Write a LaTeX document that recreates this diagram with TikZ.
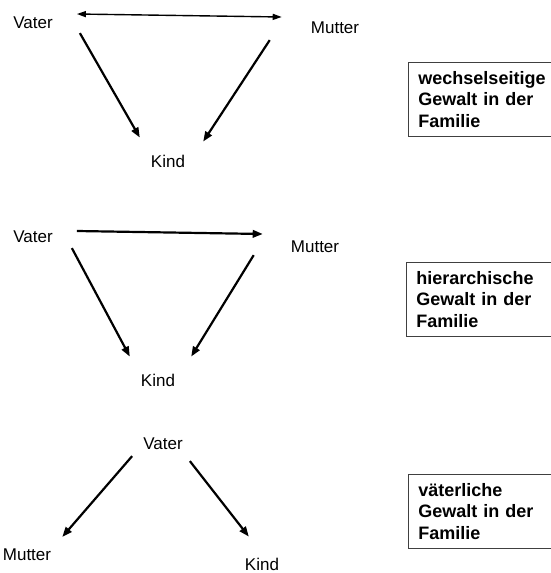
\documentclass[tikz,border=0pt]{standalone}
\usepackage{fontspec}
\setmainfont{Liberation Sans}
\usetikzlibrary{arrows.meta}

\begin{document}
\begin{tikzpicture}[
  x=1pt, y=-1pt,
  every node/.style={
    inner sep=0pt,
    font=\fontsize{17}{20}\selectfont
  },
  arr/.style={-{Triangle[length=10pt,width=7.5pt]}, line width=2.2pt},
  dbl/.style={{Triangle[length=9pt,width=6pt]}-{Triangle[length=9pt,width=6pt]}, line width=1.4pt},
  typbox/.style={
    draw=black!75, line width=0.9pt, anchor=north west,
    text width=150pt, align=left, inner xsep=10pt, inner ysep=9pt,
    font=\fontsize{18}{21.5}\selectfont\bfseries
  }
]
  \useasboundingbox (0,0) rectangle (551,573);

  % wechselseitige Gewalt
  \node (v1) at (33,23) {Vater};
  \node (m1) at (335,28) {Mutter};
  \node (k1) at (168,161) {Kind};
  \node[typbox] (t1) at (408,62) {wechselseitige\\Gewalt in der\\Familie};

  \draw[dbl] ([xshift=24pt,yshift=9pt]v1.east) -- ([xshift=-29pt,yshift=11pt]m1.west);
  \draw[arr] ([xshift=27pt,yshift=-4pt]v1.south east) -- ([xshift=-11pt,yshift=17pt]k1.north west);
  \draw[arr] ([xshift=-41pt,yshift=-6pt]m1.south west) -- ([xshift=18pt,yshift=13pt]k1.north east);

  % hierarchische Gewalt
  \node (v2) at (33,237) {Vater};
  \node (m2) at (315,247) {Mutter};
  \node (k2) at (158,380) {Kind};
  \node[typbox] (t2) at (406,262) {hierarchische\\Gewalt in der\\Familie};

  \draw[arr] ([xshift=24pt,yshift=6pt]v2.east) -- ([xshift=-28pt,yshift=13pt]m2.west);
  \draw[arr] ([xshift=19pt,yshift=-5pt]v2.south east) -- ([xshift=-11pt,yshift=17pt]k2.north west);
  \draw[arr] ([xshift=-37pt,yshift=-2pt]m2.south west) -- ([xshift=16pt,yshift=17pt]k2.north east);

  % vaeterliche Gewalt
  \node (v3) at (163,444) {Vater};
  \node (m3) at (27,555) {Mutter};
  \node (k3) at (262,564) {Kind};
  \node[typbox] (t3) at (408,474) {väterliche\\Gewalt in der\\Familie};

  \draw[arr] ([xshift=-11pt,yshift=-6pt]v3.south west) -- ([xshift=11pt,yshift=12pt]m3.north east);
  \draw[arr] ([xshift=7pt,yshift=-11pt]v3.south east) -- ([xshift=4pt,yshift=21pt]k3.north west);
\end{tikzpicture}
\end{document}
